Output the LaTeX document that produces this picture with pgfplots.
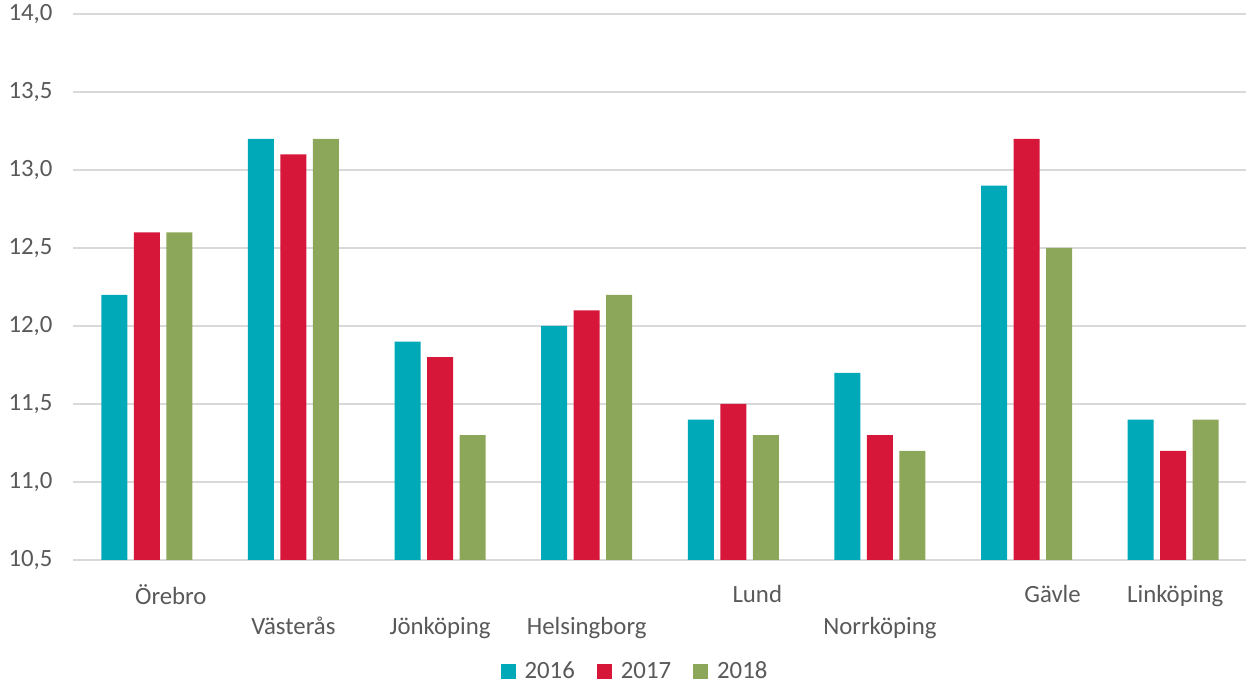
\documentclass[border=0pt]{standalone}
\usepackage{pgfplots}
\pgfplotsset{compat=1.18}
\usepackage{fontspec}
\setmainfont{Carlito}
\definecolor{cteal}{HTML}{00A9B8}
\definecolor{cred}{HTML}{D7173A}
\definecolor{cgreen}{HTML}{8DA75A}
\definecolor{cgrid}{HTML}{D9D9D9}
\definecolor{ctext}{HTML}{595959}
\begin{document}
\begin{tikzpicture}
\useasboundingbox (0,0) rectangle (623pt,341.5pt);
\begin{axis}[
  at={(36.75pt,61.5pt)}, anchor=south west,
  scale only axis, width=586.5pt, height=273pt,
  xmin=-0.5, xmax=7.5, ymin=10.5, ymax=14,
  ytick={10.5,11,11.5,12,12.5,13,13.5,14},
  xtick={0,1,2,3,4,5,6,7},
  xticklabels={{\hspace*{24pt}Örebro},{\strut\\Västerås},{\strut\\Jönköping},{\strut\\Helsingborg},{\hspace*{24pt}Lund},{\strut\\Norrköping},{\hspace*{26pt}Gävle},{\hspace*{2pt}Linköping}},
  axis line style={draw=none},
  major tick length=0pt,
  ymajorgrids, grid style={cgrid, line width=1pt},
  ybar=3.25pt, bar width=13pt,
  /pgf/number format/.cd, use comma, fixed, fixed zerofill, precision=1, assume math mode=true,
  /pgfplots/.cd,
  tick label style={font=\fontsize{12.4}{14.5}\selectfont, text=ctext},
  yticklabel style={xshift=-7pt},
  x tick label style={align=center, anchor=north, yshift=-9pt},
  legend style={at={(0.5,0)}, anchor=center, xshift=-12pt, yshift=-56pt, draw=none,
    inner sep=0pt, nodes={inner ysep=1pt},
    font=\fontsize{12.4}{14.5}\selectfont, text=ctext, legend columns=-1,
    /tikz/every even column/.append style={column sep=9pt},
    /tikz/every odd column/.append style={column sep=2.5pt}},
  legend image code/.code={\fill[#1] (0pt,-3.75pt) rectangle (7.5pt,3.75pt);},
]
\addplot[fill=cteal, draw=none] coordinates {(0,12.2) (1,13.2) (2,11.9) (3,12.0) (4,11.4) (5,11.7) (6,12.9) (7,11.4)};
\addplot[fill=cred, draw=none] coordinates {(0,12.6) (1,13.1) (2,11.8) (3,12.1) (4,11.5) (5,11.3) (6,13.2) (7,11.2)};
\addplot[fill=cgreen, draw=none] coordinates {(0,12.6) (1,13.2) (2,11.3) (3,12.2) (4,11.3) (5,11.2) (6,12.5) (7,11.4)};
\legend{2016,2017,2018}
\end{axis}
\end{tikzpicture}
\end{document}
